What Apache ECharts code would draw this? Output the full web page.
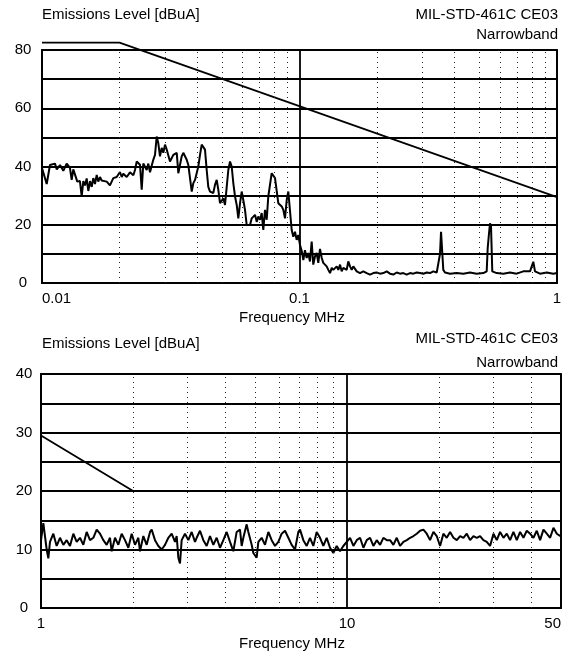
<!DOCTYPE html>
<html>
<head>
<meta charset="utf-8">
<script src="https://cdn.jsdelivr.net/npm/echarts@6/dist/echarts.min.js"></script>
<style>html,body{margin:0;padding:0;background:#fff;}#chart{width:577px;height:658px;}</style>
</head>
<body>
<div id="chart"></div>
<script>
// ---- Top panel (0.01 - 1 MHz) ----
var topFreq = [0.01,0.01043,0.01074,0.01123,0.01141,0.01175,0.0121,0.01247,0.01284,0.01304,0.01323,0.01343,0.01371,0.01404,0.01426,0.01447,0.01469,0.01491,0.01513,0.01536,0.0156,0.01582,0.01606,0.01631,0.01654,0.0168,0.01705,0.0173,0.01784,0.01836,0.01865,0.01892,0.0195,0.02008,0.0204,0.02069,0.02133,0.02196,0.02263,0.02297,0.02333,0.02366,0.02402,0.02439,0.02474,0.0255,0.02587,0.02627,0.02705,0.02747,0.02789,0.02829,0.02872,0.02917,0.02959,0.03004,0.0305,0.03141,0.03236,
0.03336,0.03384,0.03488,0.03538,0.03647,0.03701,0.03815,0.0387,0.03929,0.04046,0.04108,0.04171,0.04231,0.04295,0.04361,0.04424,0.04493,0.0456,0.04626,0.04697,0.04769,0.04839,0.04913,0.04988,0.0506,0.05137,0.05216,0.05291,0.05373,0.05454,0.05533,0.05618,0.05704,0.05786,0.05876,0.05964,0.0605,0.06143,0.06237,0.06426,0.06522,0.06616,0.06718,0.06821,0.06918,0.07027,0.07132,0.07234,0.07345,0.07458,0.07565,0.07685,0.07798,0.07912,0.08034,0.08157,0.08274,0.08404,0.08529,0.08652,0.08784,0.08919,0.09047,0.0919,0.09326,0.0946,0.09605,0.09752,0.09892,0.1004,
0.102,0.1035,0.105,0.1066,0.1082,0.1098,0.1115,0.1131,0.1149,0.1166,0.1183,0.1201,0.122,0.1237,0.1256,0.1275,0.1294,0.1314,0.1334,0.1353,0.1395,0.1415,0.1437,0.1458,0.148,0.1525,0.1547,0.1571,0.1595,0.1618,0.1643,0.1668,0.1692,0.1718,0.1769,0.1824,0.1878,0.1935,0.1994,0.2054,0.2116,0.2181,0.2246,0.2314,0.2385,0.2457,0.253,0.2608,0.2686,0.2767,0.2851,0.2938,0.3026,0.3119,0.3213,0.3309,0.3411,0.346,0.3513,0.3545,0.3586,0.3618,0.3673,0.3842,0.4079,0.4327,0.4593,0.4877,0.5173,0.5333,0.5381,0.5444,0.5493,0.5542,0.5606,0.5831,0.6185,0.6568,0.6973,0.7398,0.7857,0.809,0.8214,0.859,0.912,0.9674,1.0];
var topLevel = [39.5,34,40.5,41,39,40.5,38.5,41,39.5,35.4,39,39.5,34.8,35,29.7,35,33.5,35.9,31.6,35,33,36,34,37.1,34.8,36.4,35.2,34.8,34.8,33.5,34,36,36.4,38.1,36.4,37.5,36.4,38,37,38.8,41.7,42.3,40.6,32,41,38.8,41,38,42.3,44,50.3,48,43.5,46.4,44.7,47.5,45.8,41.7,44,
44.7,37.7,43.5,44.7,42.3,40.5,31.4,34.3,35.4,40,44,47.5,48,45.8,38.8,33,31.4,32,30.9,33.7,35.4,32,27.4,26.8,29.1,26.8,33,38.8,41.7,40,34.3,29.7,26.8,22.2,27.4,31.4,28.5,25.1,19.9,19.9,22.2,21.7,23.4,21,22.8,21.7,24,18.2,25.1,21.7,29.7,30.2,37.7,38.3,36,35.4,27.4,28,26.3,25.1,22.2,28.5,31.4,31.4,18.2,15.9,17.6,14.8,16.5,13.1,
11,7.9,11.3,8.6,10.3,7.4,14.2,6.3,9.2,10.3,6.9,11.7,8.6,6.9,6.3,5.7,4.5,3.4,5.2,4.5,5.7,4.5,6.3,4,5.2,4.5,7.4,5.7,4.5,5.7,5.2,4,4.5,3.4,4,3.4,2.9,3.4,3.6,3.2,3.4,4,3.2,2.9,3.6,3.2,3.4,2.9,3.4,3.2,3.6,3.4,3.2,3.6,3.4,4,3.6,4,10,17.6,17.2,4.5,3.6,3.2,3.4,3.2,3.6,3.2,3.4,4,12,17,20.5,19.7,4,3.4,3.2,3.6,3.2,4,4,7.3,4,3.2,3.6,3.2,3.4];
var topLimitFreq = [0.01, 0.02, 1];
var topLimitLevel = [82.5, 82.5, 29.5];
var topMinorGrid = [0.02,0.03,0.04,0.05,0.06,0.07,0.08,0.09,0.2,0.3,0.4,0.5,0.6,0.7,0.8,0.9];

// ---- Bottom panel (1 - 50 MHz) ----
var bottomFreq = [1.0,1.0177,1.0436,1.0567,1.07,1.0972,1.1251,1.1537,1.183,1.213,1.2438,1.2754,1.3078,1.341,1.375,1.41,1.4458,1.4825,1.5202,1.5588,1.5983,1.6389,1.6806,1.7018,1.7451,1.7893,1.8348,1.8814,1.9292,1.9781,2.0284,2.0799,2.1061,2.1596,2.2145,2.2707,2.2993,2.3577,2.4176,2.479,2.5419,2.6065,2.6727,2.7064,2.7405,2.7751,2.8101,2.8455,2.8814,2.9546,3.0296,3.1066,3.1855,3.2256,3.3075,3.3915,3.4777,3.566,3.6566,3.7494,3.8447,3.9423,4.0424,4.1451,4.2504,4.3583,4.469,4.5254,4.5825,4.6989,4.7582,4.879,4.9406,5.066,5.13,5.2603,5.3939,5.5309,5.6713,5.8153,5.963,6.1144,6.2697,6.4289,6.5922,6.7596,6.9312,7.0187,7.197,7.3797,7.5671,7.7593,7.9563,8.1584,8.3655,8.5779,8.7958,9.0191,9.2481,9.483,9.7238,9.9749,10.228,10.488,10.754,11.027,11.307,11.594,11.889,12.19,12.5,12.82,13.14,13.48,13.82,14.17,14.53,14.9,15.28,15.67,16.07,16.48,16.89,17.32,17.76,18.21,18.67,19.15,19.63,20.13,20.64,21.17,21.71,22.26,22.83,23.41,24.0,24.61,25.23,25.88,26.53,27.2,27.89,28.6,29.33,30.08,30.84,31.62,32.43,33.25,34.09,34.96,35.85,36.76,37.69,38.65,39.63,40.64,41.67,42.73,43.81,44.93,46.07,47.24,48.44,49.67,50];
var bottomLevel = [11.5,14.5,10,8.5,11.3,12.7,10.6,12,10.8,11.6,10.6,12.7,11.3,12,10.8,13,11.6,12,13.4,12.7,11.6,10.8,12,9.7,12,10.8,12.7,11.6,10.3,12.7,10.8,12,9.7,12.3,10.8,13,13.4,11.6,10.6,10,10.8,12,12.7,13,11.3,12.3,8.6,7.6,11.6,12.7,11.6,13,11.3,12,13.2,11.6,10.6,12.3,10.8,12,10.3,11.6,13,11.3,9.7,13,13.4,10.6,12,14.3,13,10.8,9.4,8.6,11.3,12,10.8,13,11.6,10.6,11.3,12.7,13.2,12,10.8,10,13,13.4,11.6,10.6,12,10.6,13,12,10.6,12,10.3,9.4,10.6,9.7,10.6,11.3,12,10.6,11.6,12,10.3,11.6,12,10.6,11.6,10.8,12,11.6,11.6,10.8,12,10.6,11.3,11.6,12,12.3,12.7,13.2,13.4,12.7,11.6,13,12.3,10.6,12.7,12,13,12,11.6,12.3,12,12.7,11.6,12.3,12,12.3,11.6,11.3,10.6,12.7,11.6,13,12,12.7,11.6,13,11.6,13,12,13.2,12.7,12,13.2,11.6,13.4,12.7,12,13.7,12.7,12.3,12.5];
var bottomLimitFreq = [1, 2, 50];
var bottomLimitLevel = [29.5, 20, 20];
var bottomMinorGrid = [2,3,4,5,6,7,8,9,20,30,40];

function zip(a, b) { return a.map(function (v, i) { return [v, b[i]]; }); }

var FONT = '"Liberation Sans", Arial, sans-serif';
var FS = 15;
var ink = '#000';

function xAxisCfg(gridIndex, min, max) {
  return {
    type: 'log', logBase: 10, gridIndex: gridIndex, min: min, max: max,
    axisLine: { show: true, lineStyle: { color: ink, width: 2 } },
    axisTick: { show: false },
    axisLabel: { color: ink, fontFamily: FONT, fontSize: FS, margin: 8, alignMinLabel: gridIndex === 0 ? 'left' : 'center', alignMaxLabel: gridIndex === 1 ? 'right' : 'center' },
    splitLine: { show: true, lineStyle: { color: ink, width: 1.8 } },
    minorTick: { show: false }, minorSplitLine: { show: false }
  };
}
function yAxisCfg(gridIndex, max, interval, labelStep, margin) {
  return {
    type: 'value', gridIndex: gridIndex, min: 0, max: max, interval: interval,
    axisLine: { show: true, lineStyle: { color: ink, width: 2 } },
    axisTick: { show: false },
    axisLabel: { color: ink, fontFamily: FONT, fontSize: FS, align: 'center', margin: margin,
      formatter: function (v) { return v % labelStep === 0 ? String(v) : ''; } },
    splitLine: { show: true, lineStyle: { color: ink, width: 1.8 } }
  };
}
function minorLines(arr) {
  return {
    silent: true, symbol: ['none', 'none'], label: { show: false }, animation: false,
    lineStyle: { color: '#222', width: 1, type: [1, 4] },
    emphasis: { disabled: true },
    data: arr.map(function (v) { return { xAxis: v }; })
  };
}
function txt(x, y, s, align) {
  return { type: 'text', x: x, y: y, silent: true,
    style: { text: s, fill: ink, font: FS + 'px ' + FONT, align: align, verticalAlign: 'middle' } };
}

var chart = echarts.init(document.getElementById('chart'), null, { renderer: 'canvas' });
chart.setOption({
  backgroundColor: '#fff',
  animation: false,
  grid: [
    { left: 42, top: 50, width: 515, height: 233, show: true, borderColor: ink, borderWidth: 1.8, backgroundColor: 'transparent' },
    { left: 41, top: 374, width: 520, height: 234, show: true, borderColor: ink, borderWidth: 1.8, backgroundColor: 'transparent' }
  ],
  xAxis: [ xAxisCfg(0, 0.01, 1), xAxisCfg(1, 1, 50) ],
  yAxis: [ yAxisCfg(0, 80, 10, 20, 19), yAxisCfg(1, 40, 5, 10, 17) ],
  graphic: [
    txt(42, 15, 'Emissions Level [dBuA]', 'left'),
    txt(558, 14.5, 'MIL-STD-461C CE03', 'right'),
    txt(558, 34.5, 'Narrowband', 'right'),
    txt(292, 318, 'Frequency MHz', 'center'),
    txt(42, 344, 'Emissions Level [dBuA]', 'left'),
    txt(558, 339, 'MIL-STD-461C CE03', 'right'),
    txt(558, 362.5, 'Narrowband', 'right'),
    txt(292, 644, 'Frequency MHz', 'center')
  ],
  series: [
    { type: 'line', xAxisIndex: 0, yAxisIndex: 0, data: zip(topFreq, topLevel), showSymbol: false, symbol: 'none',
      lineStyle: { color: ink, width: 2 }, markLine: minorLines(topMinorGrid), z: 3 },
    { type: 'line', xAxisIndex: 0, yAxisIndex: 0, data: zip(topLimitFreq, topLimitLevel), showSymbol: false, symbol: 'none',
      clip: false, lineStyle: { color: ink, width: 1.8 }, z: 3 },
    { type: 'line', xAxisIndex: 1, yAxisIndex: 1, data: zip(bottomFreq, bottomLevel), showSymbol: false, symbol: 'none',
      lineStyle: { color: ink, width: 2 }, markLine: minorLines(bottomMinorGrid), z: 3 },
    { type: 'line', xAxisIndex: 1, yAxisIndex: 1, data: zip(bottomLimitFreq, bottomLimitLevel), showSymbol: false, symbol: 'none',
      clip: false, lineStyle: { color: ink, width: 1.8 }, z: 3 }
  ]
});
</script>
</body>
</html>
